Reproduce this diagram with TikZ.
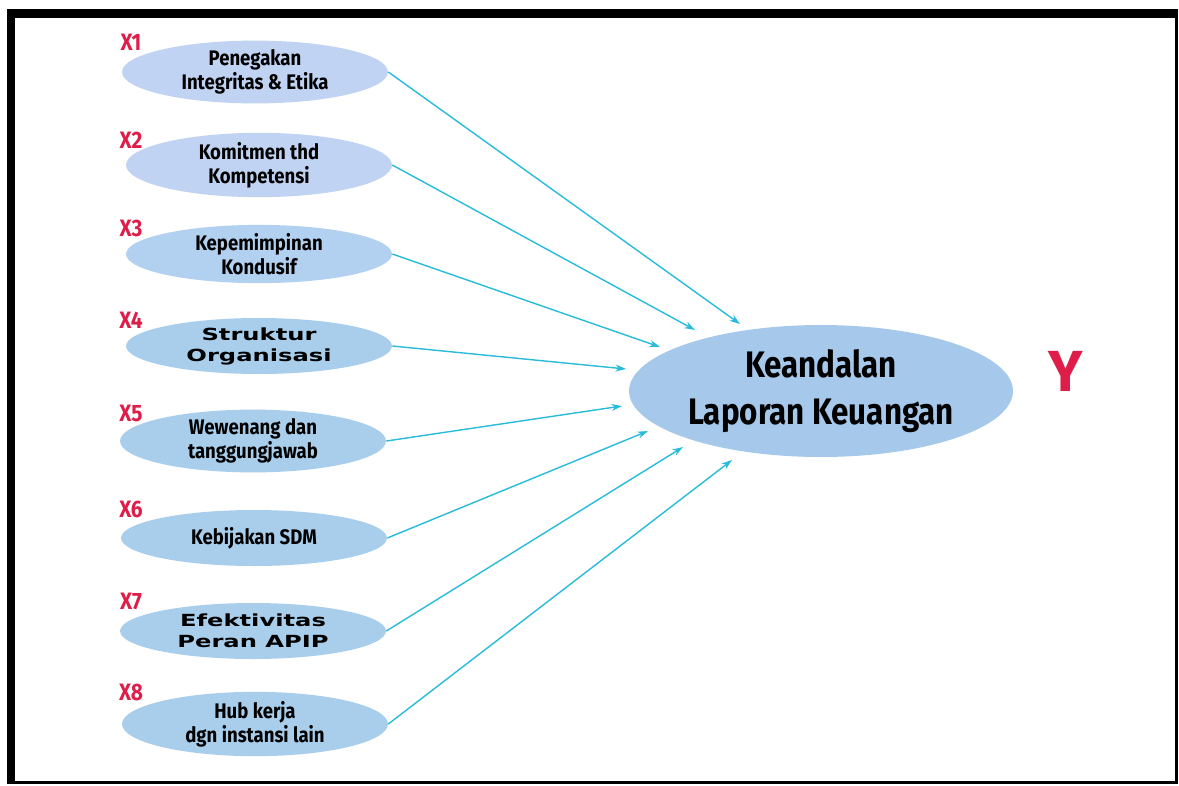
\documentclass[tikz,border=0pt]{standalone}
\usepackage{fontspec}
\setmainfont{Fira Sans}
\newfontfamily\narrowfont[FakeStretch=0.88]{Fira Sans}
\newfontfamily\bignarrowfont[FakeStretch=0.85]{Fira Sans}
\newfontfamily\widefont[FakeStretch=1.45]{DejaVu Sans}
\usetikzlibrary{shapes.geometric,arrows.meta}
\definecolor{varred}{RGB}{222,30,72}
\definecolor{arrowcyan}{RGB}{40,188,218}
\definecolor{ellA}{RGB}{192,211,242}
\definecolor{ellB}{RGB}{178,208,240}
\definecolor{ellC}{RGB}{168,206,236}
\definecolor{ellY}{RGB}{166,200,235}
\tikzset{
  varell/.style={ellipse, inner sep=0pt, minimum width=5.32cm, minimum height=1.12cm,
    align=center, font=\narrowfont\bfseries\fontsize{12}{13.5}\selectfont},
  wideell/.style={varell, font=\widefont\bfseries\fontsize{9.5}{12}\selectfont},
  varlbl/.style={text=varred, font=\narrowfont\bfseries\fontsize{13.5}{13.5}\selectfont},
  pathway/.style={arrowcyan, line width=0.8pt, -{Stealth[length=6pt,width=4pt]}}
}
\begin{document}
\begin{tikzpicture}[x=0.02cm,y=-0.02cm]
\useasboundingbox (0,0) rectangle (1179,785);
% frame
\fill[black] (7,9) rectangle (1178,784);
\fill[white] (15,18) rectangle (1175,781);

% the eight independent variables
\node[varell, fill=ellA] (x1) at (255,72) {Penegakan\\Integritas \& Etika};
\node[varell, fill=ellA] (x2) at (259,165) {Komitmen thd\\Kompetensi};
\node[varell, fill=ellB] (x3) at (259,254) {Kepemimpinan\\Kondusif};
\node[wideell, fill=ellC] (x4) at (259,346) {Struktur\\Organisasi};
\node[varell, fill=ellC] (x5) at (253,441) {Wewenang dan\\tanggungjawab};
\node[varell, fill=ellC] (x6) at (254,538) {Kebijakan SDM};
\node[wideell, fill=ellC] (x7) at (253,631) {Efektivitas\\Peran APIP};
\node[varell, fill=ellC] (x8) at (255,724) {Hub kerja\\dgn instansi lain};

% their labels
\foreach \i/\y in {1/42, 2/140, 3/228, 4/320, 5/413, 6/509, 7/601, 8/692}
  \node[varlbl] (l\i) at (131,\y) {X\i};

% the dependent variable
\node[ellipse, fill=ellY, inner sep=0pt, minimum width=7.68cm, minimum height=2.64cm,
  align=center, font=\bignarrowfont\bfseries\fontsize{21}{27}\selectfont] (y) at (821,391)
  {Keandalan\\Laporan Keuangan};
\node[text=varred, font=\bfseries\fontsize{33}{33}\selectfont] (ylbl) at (1066,371) {Y};

% arrow tips, short of the big ellipse
\coordinate (t1) at (740,324);
\coordinate (t2) at (695,330);
\coordinate (t3) at (660,347);
\coordinate (t4) at (626,369);
\coordinate (t5) at (622,406);
\coordinate (t6) at (648,431);
\coordinate (t7) at (683,447);
\coordinate (t8) at (732,460);
\foreach \i in {1,...,8}
  \draw[pathway] (x\i.east) -- (t\i);
\end{tikzpicture}
\end{document}
